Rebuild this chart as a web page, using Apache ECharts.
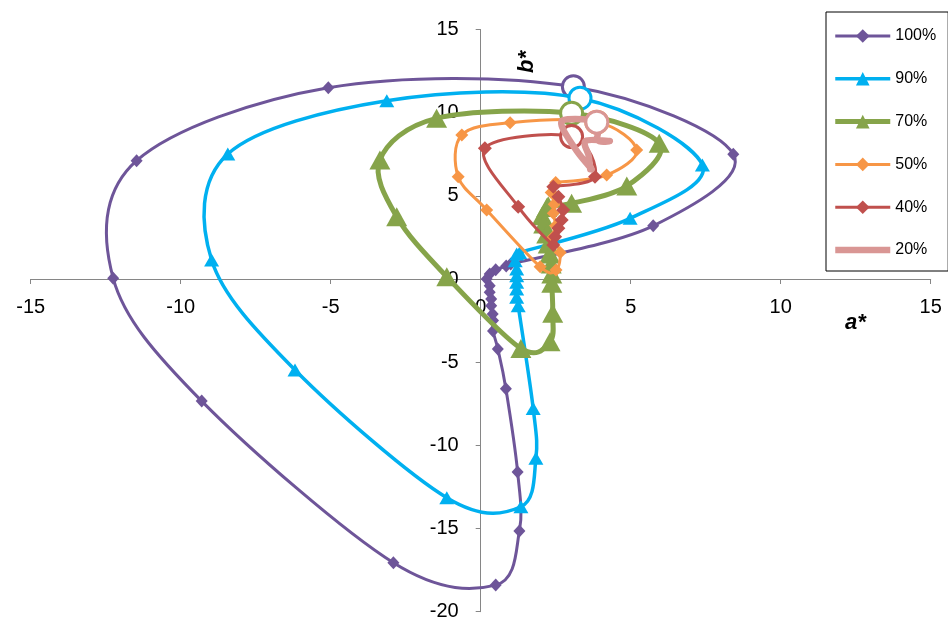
<!DOCTYPE html>
<html>
<head>
<meta charset="utf-8">
<script src="https://cdn.jsdelivr.net/npm/echarts@6/dist/echarts.min.js"></script>
<style>html,body{margin:0;padding:0;background:#fff;}#c{width:948px;height:621px;}</style>
</head>
<body>
<div id="c"></div>
<script>
// Tick labels
const xTicks = [-15, -10, -5, 0, 5, 10, 15];
const yTicks = [-20, -15, -10, -5, 0, 5, 10, 15];
const seriesNames = ['100%', '90%', '70%', '50%', '40%', '20%'];

// [a*, b*] pairs, in drawing order
const s100 = [[0.85,0.78],[0.5,0.55],[0.3,0.3],[0.2,0.0],[0.3,-0.4],[0.3,-0.8],[0.35,-1.2],[0.35,-1.6],[0.4,-2.1],[0.41,-2.5],[0.41,-3.13],[0.57,-4.2],[0.84,-6.6],[1.23,-11.6],[1.29,-15.15],[0.5,-18.4],[-2.91,-17.06],[-9.3,-7.34],[-12.25,0.04],[-11.47,7.11],[-5.08,11.5],[3.09,11.56],[8.42,7.5],[5.75,3.2],[1.0,0.9]];
const s90 = [[1.2,1.5],[1.15,1.1],[1.2,0.6],[1.2,0.2],[1.2,-0.2],[1.2,-0.6],[1.2,-1.1],[1.25,-1.6],[1.75,-7.78],[1.84,-10.78],[1.34,-13.69],[-1.13,-13.15],[-6.19,-5.47],[-8.97,1.14],[-8.43,7.52],[-3.13,10.72],[3.31,10.87],[7.39,6.86],[4.98,3.65],[1.3,1.6]];
const s70 = [[2.2,4.3],[2.05,3.8],[2.1,3.3],[2.2,2.7],[2.25,2.1],[2.3,1.5],[2.35,0.9],[2.37,0.3],[2.37,-0.26],[2.4,-2.06],[2.31,-3.77],[1.34,-4.17],[-1.13,0.14],[-2.8,3.75],[-3.36,7.16],[-1.47,9.66],[3.03,9.96],[5.95,8.16],[4.87,5.59],[3.03,4.55],[2.25,4.4]];
const s50 = [[2.35,5.2],[2.45,4.5],[2.42,3.95],[2.5,3.2],[2.4,2.5],[2.65,1.6],[2.51,0.54],[1.98,0.74],[0.2,4.15],[-0.75,6.15],[-0.63,8.66],[0.98,9.4],[3.87,9.43],[5.2,7.76],[4.2,6.25],[2.5,5.8]];
const s40 = [[2.59,4.95],[2.75,4.15],[2.7,3.55],[2.59,3.05],[2.48,2.54],[2.42,2.04],[1.25,4.35],[0.14,7.86],[3.03,8.56],[3.81,6.15],[2.42,5.55]];
const s20 = [[3.7,6.6],[3.2,7.7],[2.7,9.2],[2.9,9.6],[3.87,9.43],[3.9,8.35],[4.3,8.3],[3.5,8.3],[3.6,7.4],[3.65,6.6]];
// index of the open-circle point in each series
const circleIdx = [21, 16, 16, 12, 8, 4];

const colors = ['#6E5599', '#00B0F0', '#86A44A', '#F79646', '#C0504D', '#D99694'];
const symbols = ['diamond', 'triangle', 'triangle', 'diamond', 'diamond', 'none'];
const symSizes = [[12,13], [15,13], [21,19], [13,13], [14,14], 0];
const lineWidths = [3, 3.5, 5, 3, 3, 6.5];
const allData = [s100, s90, s70, s50, s40, s20];

const chart = echarts.init(document.getElementById('c'), null, {renderer: 'canvas'});

// Excel-style smoothed curve (Catmull-Rom bezier through the data points, in pixel space)
function curveSeries(pts, k) {
  return {
    name: seriesNames[k] + ' curve',
    type: 'custom',
    silent: true,
    z: 2 + 2 * k,
    data: pts,
    clip: false,
    renderItem: function (params, api) {
      if (params.dataIndex !== 0) return null;
      const P = pts.map(p => api.coord(p));
      const n = P.length;
      let d = 'M' + P[0][0] + ' ' + P[0][1];
      for (let i = 0; i < n - 1; i++) {
        const p0 = P[Math.max(i - 1, 0)], p1 = P[i], p2 = P[i + 1], p3 = P[Math.min(i + 2, n - 1)];
        const c1x = p1[0] + (p2[0] - p0[0]) / 6, c1y = p1[1] + (p2[1] - p0[1]) / 6;
        const c2x = p2[0] - (p3[0] - p1[0]) / 6, c2y = p2[1] - (p3[1] - p1[1]) / 6;
        d += ' C' + c1x + ' ' + c1y + ' ' + c2x + ' ' + c2y + ' ' + p2[0] + ' ' + p2[1];
      }
      return {
        type: 'path',
        shape: {pathData: d},
        style: {stroke: colors[k], lineWidth: lineWidths[k], fill: 'none', lineJoin: 'round', lineCap: 'round'}
      };
    }
  };
}

function markerSeries(pts, k) {
  return {
    name: seriesNames[k],
    type: 'line',
    symbol: symbols[k],
    symbolSize: symSizes[k],
    showSymbol: true,
    color: colors[k],
    lineStyle: {width: lineWidths[k], color: colors[k], opacity: 0},
    itemStyle: {color: colors[k]},
    emphasis: {disabled: true},
    z: 3 + 2 * k,
    data: pts.map((p, i) => (i === circleIdx[k])
      ? {value: p, symbol: 'circle', symbolSize: 22, itemStyle: {color: '#ffffff', borderColor: colors[k], borderWidth: 3}}
      : p)
  };
}

const series = [];
allData.forEach((pts, k) => { series.push(curveSeries(pts, k)); series.push(markerSeries(pts, k)); });

const labelFont = {fontFamily: 'Liberation Sans, Arial, sans-serif', fontSize: 20, color: '#000'};
const option = {
  animation: false,
  backgroundColor: '#fff',
  grid: {left: 30.7, right: 17.3, top: 29.5, bottom: 9.3, containLabel: false, outerBoundsMode: 'none'},
  xAxis: {
    type: 'value', min: xTicks[0], max: xTicks[xTicks.length - 1], interval: 5,
    position: 'bottom', offset: 0,
    axisLine: {onZero: false, lineStyle: {color: '#868686', width: 1}},
    axisTick: {show: true, length: 5, lineStyle: {color: '#868686'}},
    axisLabel: Object.assign({margin: 18}, labelFont),
    splitLine: {show: false}
  },
  yAxis: {
    type: 'value', min: yTicks[0], max: yTicks[yTicks.length - 1], interval: 5,
    position: 'left', offset: 0,
    axisLine: {onZero: false, lineStyle: {color: '#868686', width: 1}},
    axisTick: {show: true, length: 5, lineStyle: {color: '#868686'}},
    axisLabel: Object.assign({margin: 22}, labelFont),
    splitLine: {show: false}
  },
  legend: {
    orient: 'vertical', left: 826, top: 12,
    padding: [16, 12, 13, 6],
    borderColor: '#000', borderWidth: 1, backgroundColor: '#fff',
    itemWidth: 55, itemHeight: 17, itemGap: 26.8,
    textStyle: {fontFamily: 'Liberation Sans, Arial, sans-serif', fontSize: 16, color: '#000'},
    data: seriesNames.map((nm, k) => ({
      name: nm,
      itemStyle: {opacity: k === 5 ? 0 : 1, color: colors[k]},
      lineStyle: {width: lineWidths[k], opacity: 1, color: colors[k]}
    }))
  },
  graphic: [
    {type: 'text', left: 845, top: 312, style: {text: 'a*', font: 'italic bold 22px "Liberation Sans", Arial, sans-serif', fill: '#000'}},
    {type: 'text', x: 527, y: 62, rotation: Math.PI / 2, style: {text: 'b*', font: 'italic bold 22px "Liberation Sans", Arial, sans-serif', fill: '#000', align: 'center', verticalAlign: 'middle'}}
  ],
  series: series
};
chart.setOption(option);
// place the axes so they cross at the origin
const origin = chart.convertToPixel({gridIndex: 0}, [0, 0]);
const corner = chart.convertToPixel({gridIndex: 0}, [xTicks[0], yTicks[0]]);
chart.setOption({
  xAxis: {offset: origin[1] - corner[1]},
  yAxis: {offset: corner[0] - origin[0]}
});
</script>
</body>
</html>
